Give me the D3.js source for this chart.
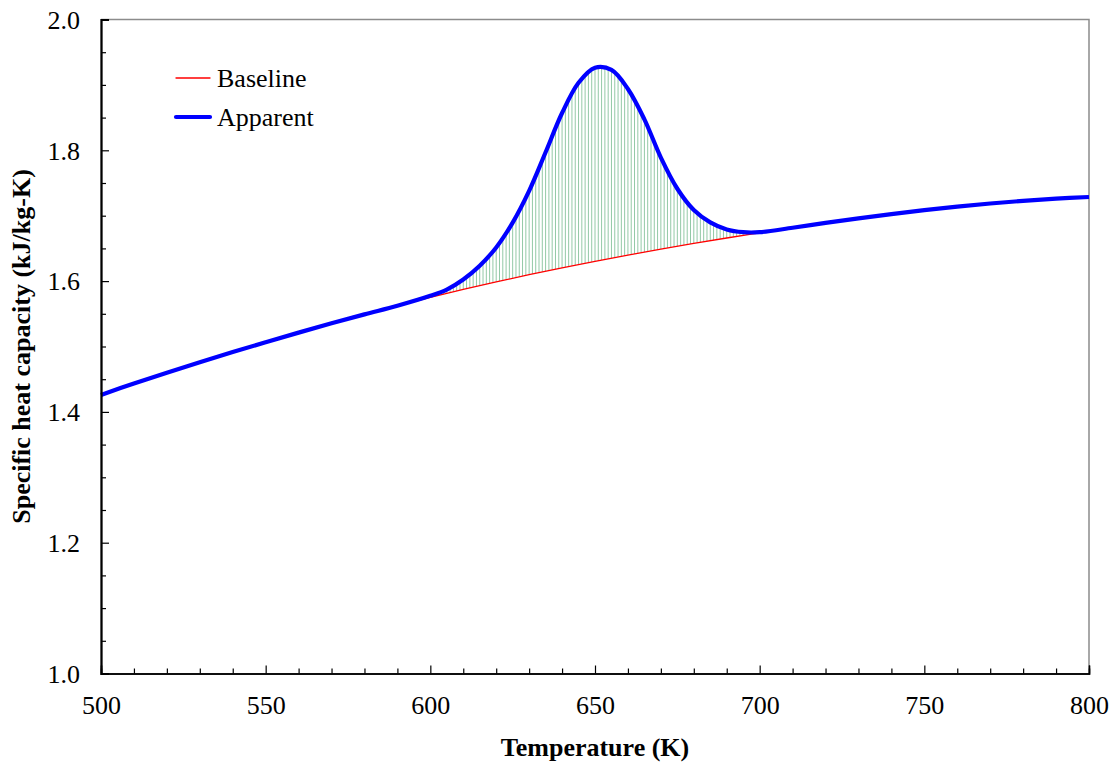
<!DOCTYPE html>
<html>
<head>
<meta charset="utf-8">
<script src="https://cdn.jsdelivr.net/npm/d3@7"></script>
<style>
  html, body { margin: 0; padding: 0; background: #fff; }
  svg text { font-family: "Liberation Serif", "Times New Roman", serif; fill: #000; }
</style>
</head>
<body>
<svg id="chart" width="1112" height="763"></svg>
<script>
// Baseline specific heat (kJ/kg-K) sampled every 10 K
const baselineT = [500, 510, 520, 530, 540, 550, 560, 570, 580, 590, 600, 610, 620, 630, 640, 650,
                   660, 670, 680, 690, 700, 710, 720, 730, 740, 750, 760, 770, 780, 790, 800];
const baselineCp = [1.426, 1.4435, 1.460, 1.476, 1.4915, 1.5065, 1.5212, 1.5354, 1.5491, 1.5623, 1.575,
                    1.5872, 1.5988, 1.6098, 1.6203, 1.6303, 1.6398, 1.6489, 1.6576, 1.6659, 1.6738,
                    1.6816, 1.689, 1.696, 1.7025, 1.7085, 1.7139, 1.7187, 1.7227, 1.726, 1.7286];

// Apparent specific heat, denser sampling through the transition peak
const apparentT = [500, 510, 520, 530, 540, 550, 560, 570, 580, 590,
                   600, 605, 610, 615, 620, 625, 630, 635, 640, 645, 650, 655, 660, 665, 670,
                   675, 680, 685, 690, 695, 700,
                   710, 720, 730, 740, 750, 760, 770, 780, 790, 800];
const apparentCp = [1.426, 1.4435, 1.460, 1.476, 1.4915, 1.5065, 1.5212, 1.5354, 1.5491, 1.5623,
                    1.5775, 1.5871, 1.6025, 1.6235, 1.6515, 1.6895, 1.738, 1.797, 1.857, 1.9033,
                    1.9263, 1.923, 1.8938, 1.8473, 1.7889, 1.7412, 1.7086, 1.6897, 1.6789, 1.6748,
                    1.6748, 1.6816, 1.689, 1.696, 1.7025, 1.7085, 1.7139, 1.7187, 1.7227, 1.726, 1.7286];

const xTicks = [500, 550, 600, 650, 700, 750, 800];
const yTicks = [1.0, 1.2, 1.4, 1.6, 1.8, 2.0];
const seriesNames = ["Baseline", "Apparent"];
const xTitle = "Temperature (K)";
const yTitle = "Specific heat capacity (kJ/kg-K)";

const margin = { left: 101, top: 19.5, right: 1089, bottom: 673.5 };
const svg = d3.select("#chart");

const x = d3.scaleLinear().domain([500, 800]).range([margin.left, margin.right]);
const y = d3.scaleLinear().domain([1.0, 2.0]).range([margin.bottom, margin.top]);

const baseline = baselineT.map((t, i) => [t, baselineCp[i]]);
const apparent = apparentT.map((t, i) => [t, apparentCp[i]]);
const smooth = d3.curveCatmullRom.alpha(0.5);

// Latent-heat region: vertical hatching between the two curves, 1 K apart
const defs = svg.append("defs");
defs.append("clipPath").attr("id", "peakClip")
  .append("path")
  .attr("d", d3.area()
    .x(d => x(d[0]))
    .y0(margin.bottom)
    .y1(d => y(d[1]))
    .curve(smooth)(apparent));

const baseAt = t => {
  const i = d3.bisectRight(baselineT, t) - 1;
  const j = Math.min(i + 1, baselineT.length - 1);
  const f = j === i ? 0 : (t - baselineT[i]) / (baselineT[j] - baselineT[i]);
  return baselineCp[i] + f * (baselineCp[j] - baselineCp[i]);
};
const hatchT = d3.range(601, 700, 1);
svg.append("g").attr("clip-path", "url(#peakClip)")
  .selectAll("line").data(hatchT).join("line")
  .attr("x1", d => x(d)).attr("x2", d => x(d))
  .attr("y1", d => y(baseAt(d)))
  .attr("y2", margin.top)
  .attr("stroke", "#93c9a6")
  .attr("stroke-width", 1);

// Frame: grey top and right edges
svg.append("path")
  .attr("d", `M${margin.left},${margin.top}H${margin.right}V${margin.bottom}`)
  .attr("fill", "none").attr("stroke", "#8c8c8c").attr("stroke-width", 1.5);

// Curves
const line = d3.line().x(d => x(d[0])).y(d => y(d[1])).curve(smooth);
svg.append("path").attr("d", line(baseline))
  .attr("fill", "none").attr("stroke", "#ff0000").attr("stroke-width", 1.3);
svg.append("path").attr("d", line(apparent))
  .attr("fill", "none").attr("stroke", "#0000ff").attr("stroke-width", 4.2)
  .attr("stroke-linejoin", "round");

// Axes with inward ticks
const xAxis = svg.append("g").attr("transform", `translate(0,${margin.bottom})`);
xAxis.call(d3.axisBottom(x).tickValues(d3.range(510, 800, 10).filter(v => v % 50 !== 0))
  .tickSize(-5).tickFormat(""));
xAxis.append("g").call(d3.axisBottom(x).tickValues(xTicks).tickSize(-8).tickFormat(d3.format("d")));
xAxis.selectAll(".domain").attr("stroke", "#000").attr("stroke-width", 1.5);
xAxis.selectAll(".tick line").attr("stroke", "#000").attr("stroke-width", 1.2);
xAxis.selectAll(".tick text").attr("font-size", 26).attr("font-family", "Liberation Serif")
  .attr("y", 22).attr("dy", "0.71em");

const yAxis = svg.append("g").attr("transform", `translate(${margin.left},0)`);
yAxis.call(d3.axisLeft(y).tickValues(d3.range(1.05, 2.0, 0.05).filter(v => Math.abs(v * 5 - Math.round(v * 5)) > 1e-6))
  .tickSize(-5).tickFormat(""));
yAxis.append("g").call(d3.axisLeft(y).tickValues(yTicks).tickSize(-8).tickFormat(d3.format(".1f")));
yAxis.selectAll(".domain").attr("stroke", "#000").attr("stroke-width", 1.8);
yAxis.selectAll(".tick line").attr("stroke", "#000").attr("stroke-width", 1.2);
yAxis.selectAll(".tick text").attr("font-size", 26).attr("font-family", "Liberation Serif")
  .attr("x", -21).attr("dy", "0.34em");

// Axis titles
svg.append("text").attr("x", (margin.left + margin.right) / 2).attr("y", 756)
  .attr("text-anchor", "middle").attr("font-size", 26).attr("font-weight", "bold")
  .text(xTitle);
svg.append("text")
  .attr("transform", `translate(30,${(margin.top + margin.bottom) / 2}) rotate(-90)`)
  .attr("text-anchor", "middle").attr("font-size", 26).attr("font-weight", "bold")
  .text(yTitle);

// Legend
const legend = svg.append("g");
const legendItems = [
  { name: seriesNames[0], color: "#ff0000", width: 1.3, y: 78 },
  { name: seriesNames[1], color: "#0000ff", width: 4.2, y: 117 }
];
legendItems.forEach(it => {
  legend.append("line").attr("x1", 176).attr("x2", 210).attr("y1", it.y).attr("y2", it.y)
    .attr("stroke", it.color).attr("stroke-width", it.width).attr("stroke-linecap", "round");
  legend.append("text").attr("x", 217).attr("y", it.y + 9).attr("font-size", 26).text(it.name);
});
</script>
</body>
</html>
